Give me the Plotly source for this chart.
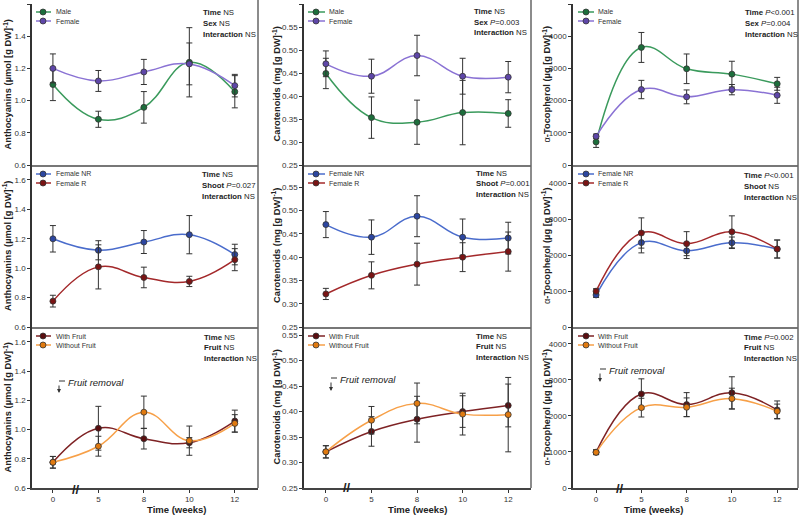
import plotly.graph_objects as go

# ---------------- data ----------------
weeks = ["0", "5", "8", "10", "12"]
xpos = [0, 1, 2, 3, 4]

antho_male = [1.10, 0.884, 0.958, 1.238, 1.055]
antho_male_err = [0.10, 0.05, 0.098, 0.215, 0.10]
antho_female = [1.20, 1.122, 1.178, 1.228, 1.093]
antho_female_err = [0.09, 0.065, 0.078, 0.13, 0.07]
antho_R = [0.776, 1.009, 0.937, 0.910, 1.058]
antho_R_err = [0.04, 0.15, 0.07, 0.035, 0.075]
antho_nofruit = [0.776, 0.886, 1.119, 0.924, 1.042]
antho_nofruit_err = [0.04, 0.068, 0.11, 0.10, 0.06]

carot_male = [0.449, 0.353, 0.343, 0.364, 0.362]
carot_male_err = [0.033, 0.045, 0.048, 0.07, 0.03]
carot_female = [0.470, 0.443, 0.488, 0.443, 0.441]
carot_female_err = [0.028, 0.037, 0.044, 0.039, 0.034]
carot_R = [0.321, 0.361, 0.385, 0.400, 0.412]
carot_R_err = [0.012, 0.029, 0.045, 0.031, 0.042]
carot_nofruit = [0.321, 0.383, 0.416, 0.395, 0.394]
carot_nofruit_err = [0.012, 0.027, 0.04, 0.041, 0.073]

toco_male = [716, 3651, 2988, 2822, 2521]
toco_male_err = [170, 465, 460, 400, 200]
toco_female = [890, 2344, 2116, 2340, 2165]
toco_female_err = [70, 285, 215, 160, 250]
toco_R = [995, 2611, 2315, 2643, 2167]
toco_R_err = [70, 420, 333, 445, 250]
toco_nofruit = [990, 2231, 2241, 2481, 2130]
toco_nofruit_err = [60, 260, 260, 290, 200]

stats = [
    [("Time", "NS"), ("Sex", "NS"), ("Interaction", "NS")],
    [("Time", "NS"), ("Sex", "<i>P</i>=0.003"), ("Interaction", "NS")],
    [("Time", "<i>P</i><0.001"), ("Sex", "<i>P</i>=0.004"), ("Interaction", "NS")],
    [("Time", "NS"), ("Shoot", "<i>P</i>=0.027"), ("Interaction", "NS")],
    [("Time", "NS"), ("Shoot", "<i>P</i>=0.001"), ("Interaction", "NS")],
    [("Time", "<i>P</i><0.001"), ("Shoot", "NS"), ("Interaction", "NS")],
    [("Time", "NS"), ("Fruit", "NS"), ("Interaction", "NS")],
    [("Time", "NS"), ("Fruit", "NS"), ("Interaction", "NS")],
    [("Time", "<i>P</i>=0.002"), ("Fruit", "NS"), ("Interaction", "NS")],
]

ytitles = [
    "Anthocyanins (µmol [g DW]<sup>-1</sup>)",
    "Carotenoids (mg [g DW]<sup>-1</sup>)",
    "<span style='font-weight:normal'>α</span>-Tocopherol (µg [g DW]<sup>-1</sup>)",
]

# ---------------- styles ----------------
STY = {
    "Male": ("#3a9a5c", "#1d6e3c"),
    "Female": ("#8a72d4", "#5e46a8"),
    "Female NR": ("#4a6ccc", "#2c46a0"),
    "Female R": ("#a3282a", "#7a1414"),
    "With Fruit": ("#7e2224", "#5a0e10"),
    "Without Fruit": ("#f7a048", "#e07a10"),
}

panels = [
    [("Male", antho_male, antho_male_err), ("Female", antho_female, antho_female_err)],
    [("Male", carot_male, carot_male_err), ("Female", carot_female, carot_female_err)],
    [("Male", toco_male, toco_male_err), ("Female", toco_female, toco_female_err)],
    [("Female NR", antho_female, antho_female_err), ("Female R", antho_R, antho_R_err)],
    [("Female NR", carot_female, carot_female_err), ("Female R", carot_R, carot_R_err)],
    [("Female NR", toco_female, toco_female_err), ("Female R", toco_R, toco_R_err)],
    [("With Fruit", antho_R, antho_R_err), ("Without Fruit", antho_nofruit, antho_nofruit_err)],
    [("With Fruit", carot_R, carot_R_err), ("Without Fruit", carot_nofruit, carot_nofruit_err)],
    [("With Fruit", toco_R, toco_R_err), ("Without Fruit", toco_nofruit, toco_nofruit_err)],
]

W, H = 800, 522
def PX(x): return x / W
def PY(y): return 1 - y / H

cols_px = [(32, 258), (304, 531), (573, 798)]
rows_px = [(4, 165), (165, 327), (327, 488)]
xranges = [[-0.46, 4.51], [-0.48, 4.50], [-0.51, 4.46]]
yranges = [
    [[0.6, 1.6], [0.25, 0.60], [0, 5000]],
    [[0.6, 1.702], [0.25, 0.598], [0, 4500]],
    [[0.6, 1.702], [0.25, 0.566], [0, 4470]],
]
dticks = [0.2, 0.05, 1000]
tickfmt = [".1f", ".2f", "d"]
stat_pos = [
    [(201, 13), (472, 12), (743, 13)],
    [(200, 175), (474, 173), (742, 176)],
    [(202, 337), (474, 336), (742, 337)],
]
leg_x = [(36, 51, 43, 54), (308, 325, 316, 327), (578, 594, 586, 596)]

FONT = "Liberation Sans, Arial, sans-serif"
fig = go.Figure()
layout = dict(
    width=W, height=H, margin=dict(l=0, r=0, t=0, b=0, autoexpand=False),
    paper_bgcolor="white", plot_bgcolor="white",
    font=dict(family=FONT, color="#222"), showlegend=False,
    annotations=[], shapes=[],
)

for i, series in enumerate(panels):
    r, c = divmod(i, 3)
    n = i + 1
    xa = "x" if n == 1 else f"x{n}"
    ya = "y" if n == 1 else f"y{n}"
    l, rt = cols_px[c]
    t, b = rows_px[r]
    for k, (name, vals, errs) in enumerate(series):
        lc, mc = STY[name]
        fig.add_trace(go.Scatter(
            x=xpos, y=vals, name=name, mode="lines+markers",
            xaxis=xa, yaxis=ya,
            line=dict(color=lc, width=1.5, shape="spline", smoothing=1.2),
            marker=dict(color=mc, size=6, line=dict(color="#333", width=0.8)),
            error_y=dict(type="data", array=errs, visible=True,
                         color="#333", thickness=1, width=3),
        ))
        # manual legend entry
        lx0, lx1, mx, tx_ = leg_x[c]
        ly = (t if r > 0 else 3) + 9 + k * 9
        layout["shapes"].append(dict(
            type="line", xref="paper", yref="paper",
            x0=PX(lx0), x1=PX(lx1), y0=PY(ly), y1=PY(ly),
            line=dict(color=lc, width=1.5)))
        layout["shapes"].append(dict(
            type="circle", xref="paper", yref="paper",
            x0=PX(mx - 3), x1=PX(mx + 3), y0=PY(ly + 3), y1=PY(ly - 3),
            fillcolor=mc, line=dict(color="#333", width=0.8)))
        layout["annotations"].append(dict(
            x=PX(tx_), y=PY(ly), xref="paper", yref="paper",
            xanchor="left", yanchor="middle", showarrow=False,
            text=name, font=dict(size=7, color="#333")))
    xkey = "xaxis" if n == 1 else f"xaxis{n}"
    ykey = "yaxis" if n == 1 else f"yaxis{n}"
    layout[xkey] = dict(
        domain=[PX(l), PX(rt)], anchor=ya, range=xranges[c],
        tickmode="array", tickvals=xpos, ticktext=weeks,
        showticklabels=(r == 2), ticks="outside" if r == 2 else "",
        ticklen=3, tickcolor="#333", automargin=False,
        tickfont=dict(size=8, color="#333"),
        showline=True, linecolor="#444" if r == 2 else "#777", linewidth=1.5,
        showgrid=False, zeroline=False, fixedrange=True,
    )
    layout[ykey] = dict(
        domain=[PY(b), PY(t)], anchor=xa, range=yranges[r][c],
        dtick=dticks[c], tick0=0, tickformat=tickfmt[c],
        ticks="outside", ticklen=3, tickcolor="#333", automargin=False,
        tickfont=dict(size=8, color="#333"),
        showline=True, linecolor="#333", linewidth=1.5,
        showgrid=False, zeroline=False, fixedrange=True,
    )
    # right border
    layout["shapes"].append(dict(
        type="line", xref="paper", yref="paper",
        x0=PX(rt), x1=PX(rt), y0=PY(b), y1=PY(t - 4 if r == 0 else t),
        line=dict(color="#666", width=1.5)))
    # stats
    sx, sy = stat_pos[r][c]
    for k, (lab, val) in enumerate(stats[i]):
        layout["annotations"].append(dict(
            x=PX(sx), y=PY(sy + k * 10.5), xref="paper", yref="paper",
            xanchor="left", yanchor="middle", showarrow=False,
            text=f"<b>{lab}</b> {val}", font=dict(size=7.8, color="#222")))
    # y titles
    tx = [7, 276, 546][c]
    layout["annotations"].append(dict(
        x=PX(tx), y=PY((t + b) / 2), xref="paper", yref="paper",
        xanchor="center", yanchor="middle", showarrow=False, textangle=-90,
        text=f"<b>{ytitles[c]}</b>", font=dict(size=9.3, color="#222")))

# bottom row extras
fr = [(59, 381, 393, 66), (331, 378, 391, 338), (600, 369, 382, 607)]
brk = [(76, 489), (347, 487), (620, 488)]
for c in range(3):
    l, rt = cols_px[c]
    layout["annotations"].append(dict(
        x=PX((l + rt) / 2), y=PY(517), xref="paper", yref="paper",
        showarrow=False, text="<b>Time (weeks)</b>", font=dict(size=9.5, color="#222")))
    ax_, ytop, ytip, txx = fr[c]
    layout["annotations"].append(dict(
        x=PX(txx), y=PY(ytop + 1), xref="paper", yref="paper",
        xanchor="left", yanchor="middle", showarrow=False,
        text="<i>Fruit removal</i>", font=dict(size=9.5, color="#222")))
    layout["annotations"].append(dict(
        x=PX(ax_), y=PY(ytip), xref="paper", yref="paper", text=" ",
        showarrow=True, ax=0, ay=-(ytip - ytop), arrowhead=2, arrowsize=0.8,
        arrowwidth=1, arrowcolor="#333", font=dict(size=6)))
    layout["shapes"].append(dict(
        type="line", xref="paper", yref="paper",
        x0=PX(ax_), x1=PX(txx - 1), y0=PY(ytop), y1=PY(ytop),
        line=dict(color="#333", width=1)))
    bx, by = brk[c]
    layout["annotations"].append(dict(
        x=PX(bx), y=PY(by), xref="paper", yref="paper",
        xanchor="center", yanchor="middle", showarrow=False,
        text="<b>//</b>", font=dict(size=13, color="#222")))

fig.update_layout(**layout)
fig.write_html("out.html", config={"displayModeBar": False},
               post_script="document.body.style.margin='0';document.body.style.overflow='hidden';")
